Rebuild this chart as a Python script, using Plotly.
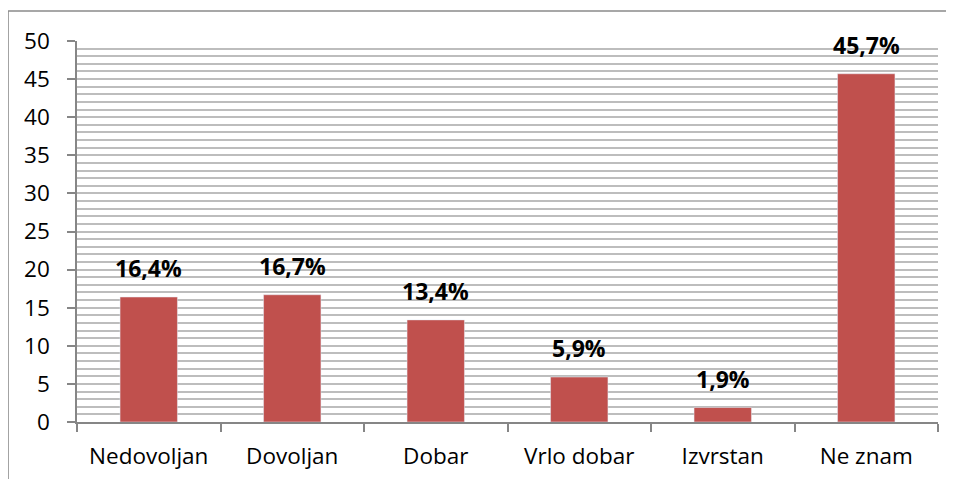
import plotly.graph_objects as go

categories = ["Nedovoljan", "Dovoljan", "Dobar", "Vrlo dobar", "Izvrstan", "Ne znam"]
values = [16.4, 16.7, 13.4, 5.9, 1.9, 45.7]
labels = ["16,4%", "16,7%", "13,4%", "5,9%", "1,9%", "45,7%"]
y_ticks = [0, 5, 10, 15, 20, 25, 30, 35, 40, 45, 50]

FONT = "'Open Sans', sans-serif"
AXIS = "#868686"
GRID = "#bdbdbd"

fig = go.Figure(go.Bar(x=categories, y=values, marker_color="#C0504D", width=0.4))

for c, v, t in zip(categories, values, labels):
    fig.add_annotation(x=c, y=v, text="<b>%s</b>" % t, showarrow=False,
                       yanchor="bottom", yshift=11,
                       font=dict(family=FONT, size=23, color="black"))

# the page body adds an 8px margin, so the figure is a bit smaller than the window
fig.update_layout(
    width=946, height=471,
    margin=dict(l=69, r=16, t=33, b=57),
    paper_bgcolor="white", plot_bgcolor="white",
    showlegend=False,
    font=dict(family=FONT, size=22.5, color="black"),
)
fig.update_yaxes(range=[0, 50], tickvals=y_ticks, showgrid=True, gridcolor=GRID, gridwidth=1.5,
                 minor=dict(dtick=1, showgrid=True, gridcolor=GRID, gridwidth=1.5),
                 showline=True, linecolor=AXIS, linewidth=1.5,
                 ticks="outside", ticklen=8, tickcolor=AXIS, tickwidth=1.5,
                 ticklabelstandoff=13, zeroline=False, automargin=False)
fig.update_xaxes(showline=True, linecolor=AXIS, linewidth=1.5, tickson="boundaries",
                 ticks="outside", ticklen=8, tickcolor=AXIS, tickwidth=1.5,
                 ticklabelstandoff=13, showgrid=False, automargin=False)

# outer chart frame (only left and top edges are inside the window)
frame = dict(color="#8a8a8a", width=1.5)
fig.add_shape(type="line", xref="paper", yref="paper", x0=-0.0801, x1=-0.0801,
              y0=-0.4, y1=1.0787, line=frame, layer="below")
fig.add_shape(type="line", xref="paper", yref="paper", x0=-0.0801, x1=1.2,
              y0=1.0787, y1=1.0787, line=frame, layer="below")

fig.write_html("out.html")
